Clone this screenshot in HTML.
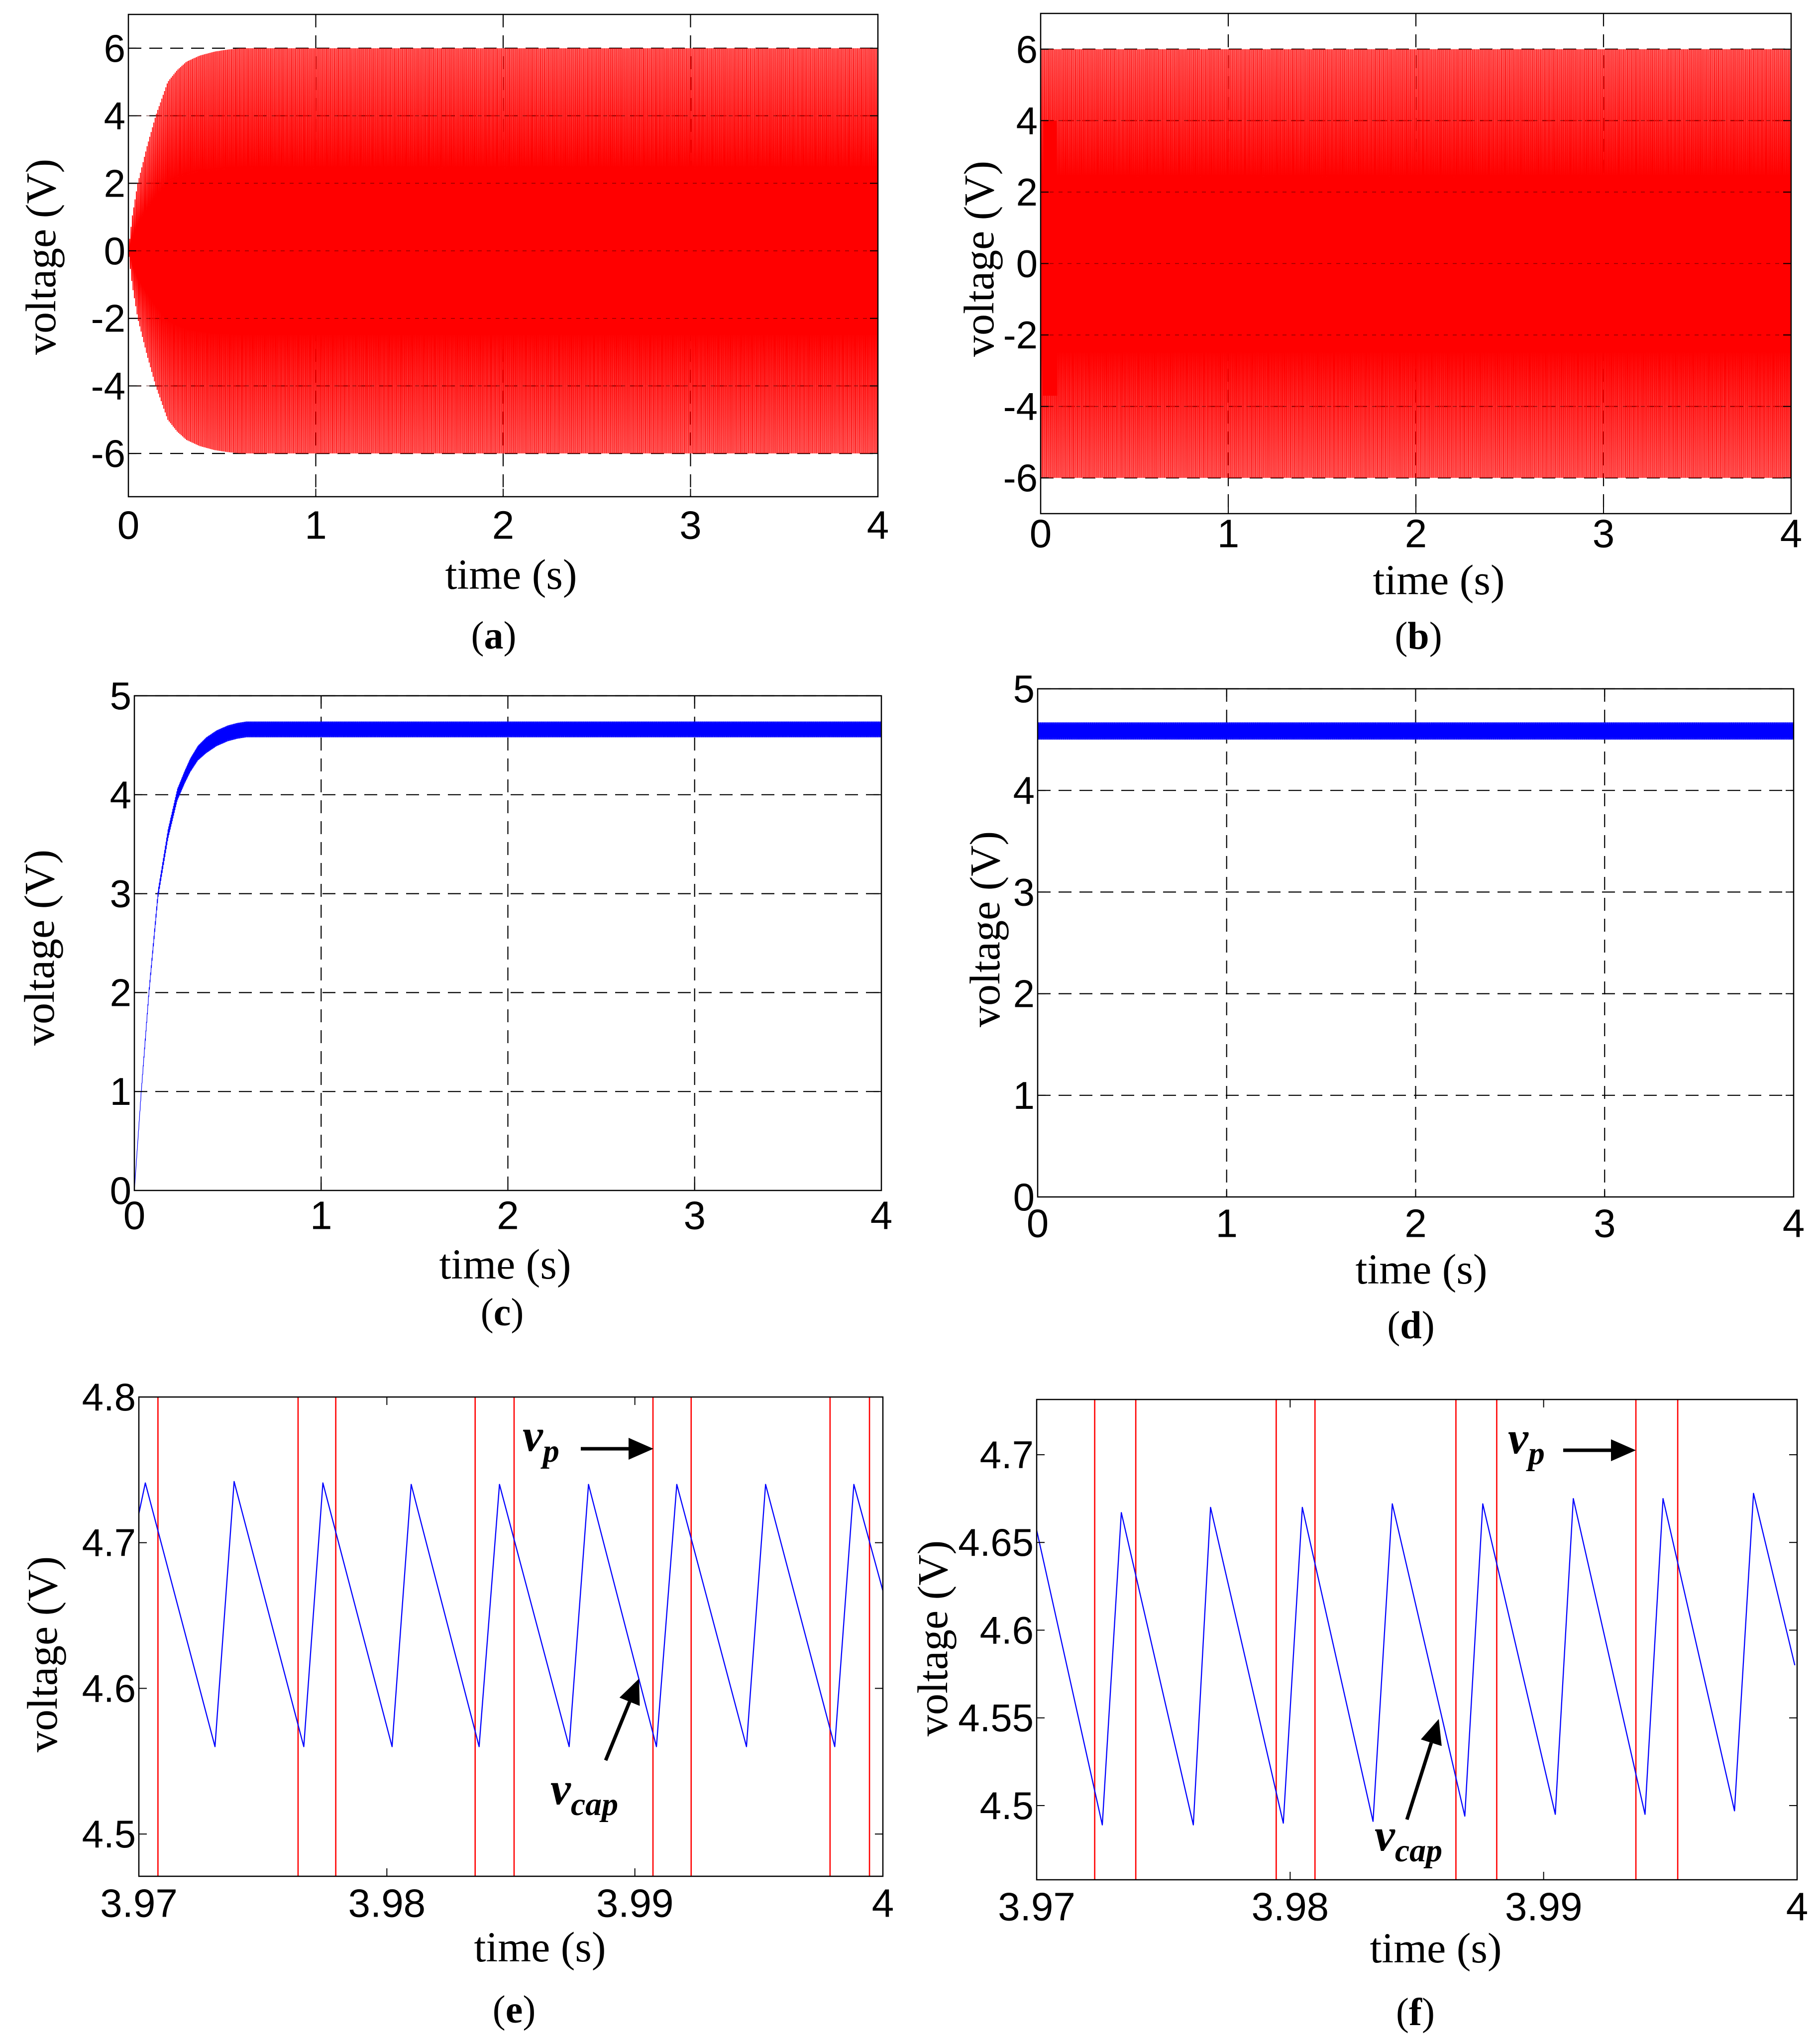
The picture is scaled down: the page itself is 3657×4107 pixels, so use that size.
<!DOCTYPE html>
<html><head><meta charset="utf-8"><style>
html,body{margin:0;padding:0;background:#fff;}
svg{display:block;}
</style></head><body>
<svg id="fig" width="3657" height="4107" viewBox="0 0 3657 4107" xmlns="http://www.w3.org/2000/svg"></svg>
<script>
// ---------- data ----------
const xTicks04 = [0,1,2,3,4];
const xTickLabels04 = ['0','1','2','3','4'];
const abYTicks = [-6,-4,-2,0,2,4,6];
const abYTickLabels = ['-6','-4','-2','0','2','4','6'];
const cdYTicks = [0,1,2,3,4,5];
const cdYTickLabels = ['0','1','2','3','4','5'];
const efXTicks = [3.97,3.98,3.99,4];
const efXTickLabels = ['3.97','3.98','3.99','4'];
const eYTicks = [4.5,4.6,4.7,4.8];
const eYTickLabels = ['4.5','4.6','4.7','4.8'];
const fYTicks = [4.5,4.55,4.6,4.65,4.7];
const fYTickLabels = ['4.5','4.55','4.6','4.65','4.7'];

const carrierPeriod = 0.00714;
const aEnvT = [0,0.02,0.05,0.1,0.146,0.21,0.26,0.31,0.38,0.46,0.53,0.6,4];
const aEnvA = [0,1,2,3.1,4,5,5.35,5.6,5.78,5.9,5.96,6,6];
const bEnvT = [0,4];
const bEnvA = [6,6];
const bBlockT = [0.012,0.087];
const bBlockV = [-3.7,4];

const rippleHalfPeriod = 0.0018;
const cMeanT = [0,0.037,0.078,0.127,0.18,0.23,0.27,0.3,0.34,0.385,0.44,0.5,0.55,0.6,4];
const cMeanV = [0,1,2,3,3.6,4,4.18,4.3,4.42,4.5,4.57,4.62,4.645,4.66,4.66];
const cRipple = [0,0.02,0.03,0.04,0.05,0.06,0.065,0.07,0.075,0.08,0.08,0.08,0.08,0.08,0.08];
const dMeanT = [0,4];
const dMeanV = [4.585,4.585];
const dRipple = [0.085,0.085];

const eT = [3.97,3.97026,3.97307,3.97384,3.97665,3.97742,3.98021,3.98098,3.98372,3.98454,3.98735,3.98813,3.99087,3.99169,3.99450,3.99527,3.99806,3.99883,4.0];
const eV = [4.72,4.741,4.56,4.742,4.56,4.741,4.56,4.740,4.56,4.740,4.56,4.740,4.56,4.740,4.56,4.740,4.56,4.740,4.667];
const eRed = [3.97077,3.97642,3.97794,3.98356,3.98513,3.99073,3.99227,3.99787,3.99946];

const fT = [3.97,3.97259,3.97334,3.97618,3.97686,3.97973,3.98048,3.98327,3.98403,3.98689,3.98760,3.99046,3.99117,3.99400,3.99471,3.99753,3.99828,3.99991];
const fV = [4.657,4.489,4.667,4.489,4.670,4.490,4.670,4.491,4.672,4.494,4.672,4.495,4.675,4.495,4.675,4.497,4.678,4.580];
const fRed = [3.97229,3.97391,3.97945,3.98098,3.98654,3.98815,3.99364,3.99529];

// ---------- helpers ----------
const NS = 'http://www.w3.org/2000/svg';
const svg = document.getElementById('fig');
function mk(tag, attrs, parent){
  const e = document.createElementNS(NS, tag);
  for (const k in attrs) e.setAttribute(k, attrs[k]);
  (parent||svg).appendChild(e);
  return e;
}
function interp(xs, ys, x){
  if (x <= xs[0]) return ys[0];
  for (let i=1;i<xs.length;i++){
    if (x <= xs[i]) { const f=(x-xs[i-1])/(xs[i]-xs[i-1]); return ys[i-1]+f*(ys[i]-ys[i-1]); }
  }
  return ys[ys.length-1];
}
const SANS = '"Liberation Sans", Arial, sans-serif';
const SERIF = '"Liberation Serif", "Times New Roman", serif';

function makePanel(p){
  const g = mk('g', {});
  
  
  const sx = v => p.x0 + (v - p.xmin)/(p.xmax - p.xmin)*(p.x1 - p.x0);
  const sy = v => p.y1 - (v - p.ymin)/(p.ymax - p.ymin)*(p.y1 - p.y0);
  if (p.grid){
    p.xTicks.forEach(t => {
      if (t===p.xmin || t===p.xmax) return;
      const l = mk('line', {x1:sx(t), x2:sx(t), y1:p.y0, y2:p.y1, stroke:'#000', 'stroke-width':2.2, 'stroke-dasharray':'26,16'}, g);
      
      
    });
    p.yTicks.forEach(t => {
      if (t===p.ymin) return;
      const l = mk('line', {x1:p.x0, x2:p.x1, y1:sy(t), y2:sy(t), stroke:'#000', 'stroke-width':2.2, 'stroke-dasharray':'26,16'}, g);
      
      
    });
  }
  const clipId = 'clip-' + p.name;
  const cp = mk('clipPath', {id: clipId}, g);
  mk('rect', {x:p.x0, y:p.y0, width:p.x1-p.x0, height:p.y1-p.y0}, cp);
  const data = mk('g', {'clip-path':'url(#'+clipId+')'}, g);
  
  
  p.draw(data, sx, sy);
  if (p.gridOver){
    p.yTicks.forEach(t => {
      if (Math.abs(t) >= 6) return;
      mk('line', {x1:p.x0, x2:p.x1, y1:sy(t), y2:sy(t), stroke:'#400', 'stroke-width':1.5, 'stroke-dasharray':'8,10', opacity:0.6}, g);
    });
  }
  p.xTicks.forEach(t => {
    mk('line', {x1:sx(t), x2:sx(t), y1:p.y1, y2:p.y1-16, stroke:'#000', 'stroke-width':2}, g);
    mk('line', {x1:sx(t), x2:sx(t), y1:p.y0, y2:p.y0+16, stroke:'#000', 'stroke-width':2}, g);
  });
  p.yTicks.forEach(t => {
    mk('line', {x1:p.x0, x2:p.x0+16, y1:sy(t), y2:sy(t), stroke:'#000', 'stroke-width':2}, g);
    mk('line', {x1:p.x1, x2:p.x1-16, y1:sy(t), y2:sy(t), stroke:'#000', 'stroke-width':2}, g);
  });
  const box = mk('rect', {x:p.x0, y:p.y0, width:p.x1-p.x0, height:p.y1-p.y0, fill:'none', stroke:'#000', 'stroke-width':2.5}, g);
  
  
  p.xTicks.forEach((t,i) => {
    const tx = mk('text', {x:sx(t), y:p.xLabelY, 'text-anchor':'middle', 'dominant-baseline':'central', 'font-family':SANS, 'font-size':80, fill:'#000'}, g);
    tx.textContent = p.xTickLabels[i];
    
    
  });
  p.yTicks.forEach((t,i) => {
    const tx = mk('text', {x:p.x0-6, y:sy(t), 'text-anchor':'end', 'dominant-baseline':'central', 'font-family':SANS, 'font-size':78, fill:'#000'}, g);
    tx.textContent = p.yTickLabels[i];
    
    
  });
  const yt = mk('text', {x:0, y:0, transform:'translate('+p.yTitle[0]+','+p.yTitle[1]+') rotate(-90)', 'text-anchor':'middle', 'dominant-baseline':'central', 'font-family':SERIF, 'font-size':86, fill:'#000'}, g);
  yt.textContent = 'voltage (V)';
  
  
  const xt = mk('text', {x:p.xTitle[0], y:p.xTitle[1], 'text-anchor':'middle', 'dominant-baseline':'central', 'font-family':SERIF, 'font-size':86, fill:'#000'}, g);
  xt.textContent = 'time (s)';
  
  
  const cap = mk('text', {x:p.cap[0], y:p.cap[1], 'text-anchor':'middle', 'dominant-baseline':'central', 'font-family':SERIF, 'font-size':78, fill:'#000'}, g);
  cap.innerHTML = '(<tspan font-weight="bold">' + p.letter + '</tspan>)';
  
  
  return g;
}

function zigzag(parent, sx, sy, tEnv, aEnv, half, color, name){
  let pts = [];
  let s = 1;
  for (let t=0; t<=4.0001; t+=half){
    const a = interp(tEnv, aEnv, t);
    pts.push(sx(t).toFixed(1)+','+sy(s*a).toFixed(1));
    s = -s;
  }
  const pl = mk('polyline', {points:pts.join(' '), fill:'none', stroke:color, 'stroke-width':1.9}, parent);
  
  
}
function band(parent, sx, sy, tM, vM, rip, half, color, name){
  let pts = [];
  let s = 1;
  for (let t=0; t<=4.0001; t+=half){
    const m = interp(tM, vM, t), r = interp(tM, rip, t);
    pts.push(sx(t).toFixed(1)+','+sy(m + s*r).toFixed(1));
    s = -s;
  }
  const pl = mk('polyline', {points:pts.join(' '), fill:'none', stroke:color, 'stroke-width':1.2}, parent);
  
  
}
function wave(parent, sx, sy, T, V, color, name){
  const pts = T.map((t,i) => sx(t).toFixed(1)+','+sy(V[i]).toFixed(1)).join(' ');
  const pl = mk('polyline', {points:pts, fill:'none', stroke:color, 'stroke-width':2.3, 'stroke-linejoin':'round'}, parent);
  
  
}
function redLines(parent, sx, p, R){
  R.forEach(t => {
    const l = mk('line', {x1:sx(t), x2:sx(t), y1:p.y0, y2:p.y1, stroke:'#ff0000', 'stroke-width':2.6}, parent);
    
    
  });
}

const pa = {name:'panel-a', letter:'a', x0:258, x1:1764, y0:29, y1:998, xmin:0, xmax:4, ymin:-7.28, ymax:7,
  xTicks:xTicks04, xTickLabels:xTickLabels04, yTicks:abYTicks, yTickLabels:abYTickLabels, grid:true, gridOver:true,
  xLabelY:1055, yTitle:[82,516], xTitle:[1027,1154], cap:[992,1276],
  draw:(g,sx,sy)=>zigzag(g,sx,sy,aEnvT,aEnvA,carrierPeriod/2,'#ff0000','piezo-voltage-a')};
const pb = {name:'panel-b', letter:'b', x0:2091, x1:3599, y0:27, y1:1032, xmin:0, xmax:4, ymin:-7, ymax:7,
  xTicks:xTicks04, xTickLabels:xTickLabels04, yTicks:abYTicks, yTickLabels:abYTickLabels, grid:true, gridOver:true,
  xLabelY:1072, yTitle:[1967,520], xTitle:[2891,1165], cap:[2850,1277],
  draw:(g,sx,sy)=>{
    zigzag(g,sx,sy,bEnvT,bEnvA,carrierPeriod/2,'#ff0000','piezo-voltage-b');
    const r = mk('rect',{x:sx(bBlockT[0]), y:sy(bBlockV[1]), width:sx(bBlockT[1])-sx(bBlockT[0]), height:sy(bBlockV[0])-sy(bBlockV[1]), fill:'#ff0000'}, g);
    
    
  }};
const pc = {name:'panel-c', letter:'c', x0:270, x1:1771, y0:1398, y1:2392, xmin:0, xmax:4, ymin:0, ymax:5,
  xTicks:xTicks04, xTickLabels:xTickLabels04, yTicks:cdYTicks, yTickLabels:cdYTickLabels, grid:true,
  xLabelY:2442, yTitle:[79,1904], xTitle:[1015,2540], cap:[1009,2636],
  draw:(g,sx,sy)=>band(g,sx,sy,cMeanT,cMeanV,cRipple,rippleHalfPeriod,'#0000ff','capacitor-voltage-c')};
const pd = {name:'panel-d', letter:'d', x0:2085, x1:3604, y0:1384, y1:2405, xmin:0, xmax:4, ymin:0, ymax:5,
  xTicks:xTicks04, xTickLabels:xTickLabels04, yTicks:cdYTicks, yTickLabels:cdYTickLabels, grid:true,
  xLabelY:2458, yTitle:[1979,1867], xTitle:[2856,2550], cap:[2835,2662],
  draw:(g,sx,sy)=>band(g,sx,sy,dMeanT,dMeanV,dRipple,rippleHalfPeriod,'#0000ff','capacitor-voltage-d')};
const pe = {name:'panel-e', letter:'e', x0:279, x1:1774, y0:2807, y1:3770, xmin:3.97, xmax:4, ymin:4.471, ymax:4.8,
  xTicks:efXTicks, xTickLabels:efXTickLabels, yTicks:eYTicks, yTickLabels:eYTickLabels, grid:false,
  xLabelY:3824, yTitle:[85,3324], xTitle:[1085,3912], cap:[1033,4037],
  draw:(g,sx,sy)=>{ redLines(g,sx,pe,eRed); wave(g,sx,sy,eT,eV,'#0000ff','vcap-e'); }};
const pf = {name:'panel-f', letter:'f', x0:2083, x1:3611, y0:2812, y1:3777, xmin:3.97, xmax:4, ymin:4.4577, ymax:4.7315,
  xTicks:efXTicks, xTickLabels:efXTickLabels, yTicks:fYTicks, yTickLabels:fYTickLabels, grid:false,
  xLabelY:3831, yTitle:[1874,3292], xTitle:[2885,3914], cap:[2844,4042],
  draw:(g,sx,sy)=>{ redLines(g,sx,pf,fRed); wave(g,sx,sy,fT,fV,'#0000ff','vcap-f'); }};

[pa,pb,pc,pd,pe,pf].forEach(makePanel);

function label(x, y, sub, name){
  const t = mk('text', {x:x, y:y, 'font-family':SERIF, 'font-style':'italic', 'font-weight':'bold', 'font-size':92, fill:'#000'});
  t.innerHTML = 'v<tspan font-size="66" dy="22">' + sub + '</tspan>';
  
  
}
function arrow(x1,y1,x2,y2,name){
  const g = mk('g', {});
  
  
  const dx=x2-x1, dy=y2-y1, L=Math.hypot(dx,dy), ux=dx/L, uy=dy/L;
  const hl=50, hw=22;
  const bx=x2-ux*hl, by=y2-uy*hl;
  mk('line', {x1:x1,y1:y1,x2:bx,y2:by,stroke:'#000','stroke-width':7}, g);
  mk('polygon', {points:[x2+','+y2, (bx-uy*hw)+','+(by+ux*hw), (bx+uy*hw)+','+(by-ux*hw)].join(' '), fill:'#000'}, g);
}
label(1050, 2915, 'p', 'vp-label-e');
arrow(1167, 2911, 1313, 2911, 'vp-arrow-e');
label(1106, 3625, 'cap', 'vcap-label-e');
arrow(1217, 3537, 1284, 3373, 'vcap-arrow-e');
label(3030, 2920, 'p', 'vp-label-f');
arrow(3141, 2914, 3287, 2914, 'vp-arrow-f');
label(2762, 3718, 'cap', 'vcap-label-f');
arrow(2827, 3656, 2891, 3454, 'vcap-arrow-f');
</script>
</body></html>
